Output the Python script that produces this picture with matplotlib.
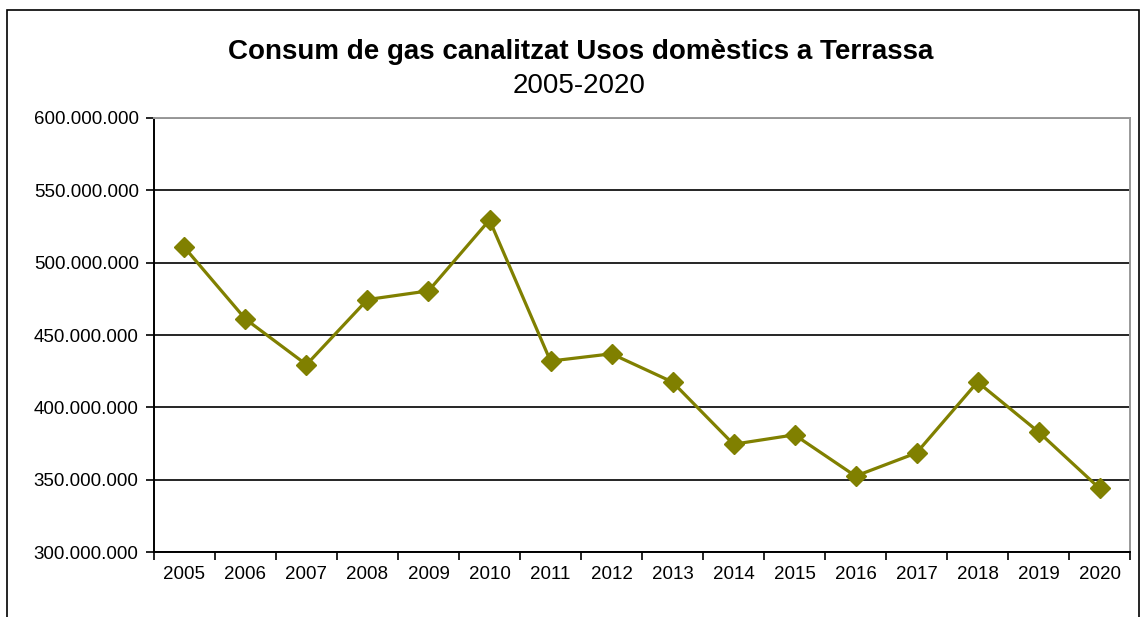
import matplotlib
matplotlib.use('Agg')
import matplotlib.pyplot as plt
from matplotlib.patches import Rectangle
from matplotlib.ticker import FuncFormatter, FixedLocator

plt.rcParams['font.family'] = ['Liberation Sans', 'DejaVu Sans']

years = [2005, 2006, 2007, 2008, 2009, 2010, 2011, 2012, 2013, 2014,
         2015, 2016, 2017, 2018, 2019, 2020]
consum = [510.5e6, 461e6, 429.5e6, 474.5e6, 480.5e6, 529.5e6, 432e6, 437e6,
          417.5e6, 374.5e6, 381e6, 352.5e6, 368.5e6, 417.5e6, 383e6, 344e6]
year_labels = [str(y) for y in years]

fig = plt.figure(figsize=(11.44, 6.17), dpi=100)
fig.patches.append(Rectangle((0.0065, -0.1), 0.9895, 1.084, transform=fig.transFigure,
                             fill=False, edgecolor='black', linewidth=1.2))

ax = fig.add_axes([0.1346, 0.1053, 0.8532, 0.7035])
x = list(range(len(years)))
ax.plot(x, consum, color='#808000', linewidth=2.3, marker='D', markersize=10,
        markeredgecolor='#808000', zorder=3)

ax.set_xlim(-0.5, len(years) - 0.5)
ax.set_ylim(300e6, 600e6)
ax.set_yticks([300e6 + 50e6 * i for i in range(7)])
ax.yaxis.set_major_formatter(FuncFormatter(lambda v, p: f'{int(v):,}'.replace(',', '.')))
ax.yaxis.grid(True, color='black', linewidth=1.2)
ax.set_axisbelow(True)

ax.xaxis.set_major_locator(FixedLocator([i - 0.5 for i in range(len(years) + 1)]))
ax.xaxis.set_major_formatter(FuncFormatter(lambda v, p: ''))
ax.set_xticks(x, minor=True)
ax.set_xticklabels(year_labels, minor=True)
ax.tick_params(axis='x', which='minor', length=0, pad=10, labelsize=13.5)
ax.tick_params(axis='x', which='major', length=6, width=1.2, direction='out')
ax.tick_params(axis='y', length=6, width=1.2, direction='out', labelsize=13.5, pad=5)

for s in ['left', 'bottom']:
    ax.spines[s].set_color('black')
    ax.spines[s].set_linewidth(1.4)
for s in ['top', 'right']:
    ax.spines[s].set_color('#999999')
    ax.spines[s].set_linewidth(1.4)

fig.text(0.5074, 0.905, 'Consum de gas canalitzat Usos domèstics a Terrassa',
         ha='center', va='baseline', fontsize=20, fontweight='bold')
fig.text(0.506, 0.849, '2005-2020', ha='center', va='baseline', fontsize=20)

fig.savefig('out.png', dpi=100)
